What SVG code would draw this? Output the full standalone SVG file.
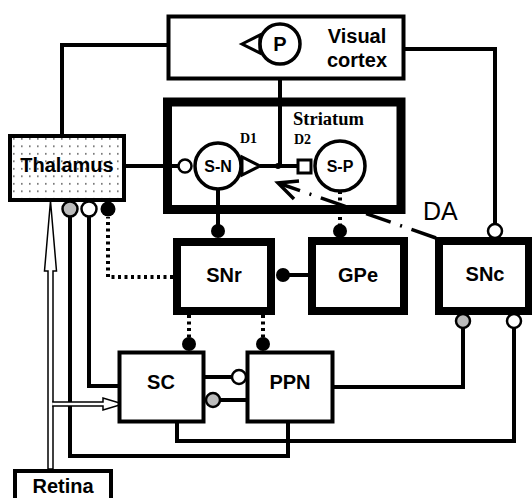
<svg xmlns="http://www.w3.org/2000/svg" width="532" height="498" viewBox="0 0 532 498">
<defs>
<pattern id="dots" width="8" height="7.5" patternUnits="userSpaceOnUse" x="10" y="136">
<rect x="3" y="2" width="1.6" height="1.6" fill="#666"/>
</pattern>
<style>
.lbl{font-family:"Liberation Sans",Arial,sans-serif;font-weight:bold;font-size:20px;text-anchor:middle;fill:#000}
.small{font-size:16px}
.serif{font-family:"Liberation Serif","Times New Roman",serif;font-weight:bold;fill:#000}
.box{fill:#fff;stroke:#000;stroke-width:4}
.thick{fill:#fff;stroke:#000;stroke-width:8}
.ln{fill:none;stroke:#000;stroke-width:4}
.dot{fill:none;stroke:#000;stroke-width:4;stroke-dasharray:3,3.5}
.blk{fill:#000}
.opn{fill:#fff;stroke:#000;stroke-width:2.5}
.gry{fill:#bbb;stroke:#000;stroke-width:2.5}
.cell{fill:#fff;stroke:#000;stroke-width:3.5}
</style>
</defs>
<rect width="532" height="498" fill="#fff"/>

<g id="retina-arrows">
<path d="M48,469 V271 H44.5 L50.5,201 L56.5,271 H53 V469 Z" fill="#fff" stroke="#000" stroke-width="1.5"/>
</g>

<g id="connectors">
<path class="ln" d="M62,134 V45 H242"/>
<path class="ln" d="M280,64 V166"/>
<path class="ln" d="M126,166 H178"/>
<path class="ln" d="M260,166 H298"/>
<circle cx="278" cy="166" r="3" class="blk"/>
<path class="ln" d="M218,189 V231"/>
<circle cx="218" cy="231" r="7" class="blk"/>
<path class="dot" d="M340,191 V231"/>
<circle cx="340" cy="231" r="7" class="blk"/>
<path class="ln" d="M308,275 H283"/>
<circle cx="283" cy="275" r="7" class="blk"/>
<path class="ln" d="M405,49 H495 V224"/>
<circle cx="495" cy="231" r="7" class="opn"/>
<path d="M436,238 L281,184" fill="none" stroke="#000" stroke-width="3.5" stroke-dasharray="26,10,2,10"/>
<polyline points="299,181 278,183 294,199" fill="none" stroke="#000" stroke-width="3.5"/>
<path class="dot" d="M173,277 H108 V217"/>
<circle cx="108" cy="209" r="7.5" class="blk"/>
<path class="ln" d="M118,386 H89 V217"/>
<circle cx="89" cy="209" r="7.5" class="opn"/>
<path class="ln" d="M288,423 V456 H70 V217"/>
<circle cx="70" cy="209" r="7.5" class="gry"/>
<path class="dot" d="M189,315 V343"/>
<circle cx="189" cy="344" r="7" class="blk"/>
<path class="dot" d="M263,315 V343"/>
<circle cx="263" cy="344" r="7" class="blk"/>
<path class="ln" d="M205,377 H232"/>
<circle cx="239" cy="377" r="7" class="opn"/>
<path class="ln" d="M247,400 H220"/>
<circle cx="213" cy="400" r="7" class="gry"/>
<path class="ln" d="M177,423 V441 H514 V328"/>
<circle cx="514" cy="321" r="7" class="opn"/>
<path class="ln" d="M334,387 H463 V328"/>
<circle cx="463" cy="321" r="7" class="gry"/>
<path d="M52.2,402 H103 V398 L123,404 L103,410 V406 H52.2" fill="#fff" stroke="#000" stroke-width="1.5"/>
</g>

<g id="visual-cortex">
<rect x="168.5" y="16.5" width="235" height="62" class="box"/>
<text class="lbl" x="357" y="43">Visual</text>
<text class="lbl" x="357" y="67">cortex</text>
</g>

<g id="P">
<polygon points="242,44 260,35 260,53" fill="#fff" stroke="#000" stroke-width="3"/>
<circle cx="280" cy="44" r="20" class="cell"/>
<text class="lbl" x="280" y="51">P</text>
</g>

<g id="striatum">
<rect x="167.5" y="102" width="233.5" height="107.5" fill="none" stroke="#000" stroke-width="9"/>
<text class="serif" x="293" y="125" font-size="18.5">Striatum</text>
<text class="serif" x="240" y="143" font-size="14">D1</text>
<text class="serif" x="294" y="144" font-size="14">D2</text>
</g>

<g id="S-N">
<circle cx="185" cy="166" r="6.5" class="opn"/>
<circle cx="218" cy="166" r="23" class="cell"/>
<text class="lbl small" x="218" y="172">S-N</text>
<polygon points="242,157 242,175 260,166" fill="#fff" stroke="#000" stroke-width="3"/>
</g>

<g id="S-P">
<rect x="298" y="160" width="13" height="13" fill="#fff" stroke="#000" stroke-width="3"/>
<circle cx="340" cy="166" r="25" class="cell"/>
<text class="lbl small" x="340" y="172">S-P</text>
</g>

<g id="DA">
<text x="423" y="220" font-family="Liberation Sans,Arial,sans-serif" font-size="25">DA</text>
</g>

<g id="thalamus">
<rect x="10" y="136" width="114" height="64" fill="#fff" stroke="none"/>
<rect x="10" y="136" width="114" height="64" fill="url(#dots)" stroke="#000" stroke-width="4"/>
<text class="lbl" x="67" y="172">Thalamus</text>
</g>

<g id="SNr">
<rect x="177" y="242" width="94" height="69" class="thick"/>
<text class="lbl" x="224" y="282">SNr</text>
</g>

<g id="GPe">
<rect x="312" y="241" width="92" height="70" class="thick"/>
<text class="lbl" x="358" y="282">GPe</text>
</g>

<g id="SNc">
<rect x="439" y="241" width="90" height="70" class="thick"/>
<text class="lbl" x="485" y="281">SNc</text>
</g>

<g id="SC">
<rect x="119.5" y="352.5" width="84" height="69" class="box" stroke-width="3.5"/>
<text class="lbl" x="161" y="389">SC</text>
</g>

<g id="PPN">
<rect x="247.5" y="352.5" width="85" height="69" class="box" stroke-width="3.5"/>
<text class="lbl" x="290" y="389">PPN</text>
</g>

<g id="retina">
<rect x="15" y="471" width="96" height="40" class="box"/>
<text class="lbl" x="63" y="493">Retina</text>
</g>
</svg>
